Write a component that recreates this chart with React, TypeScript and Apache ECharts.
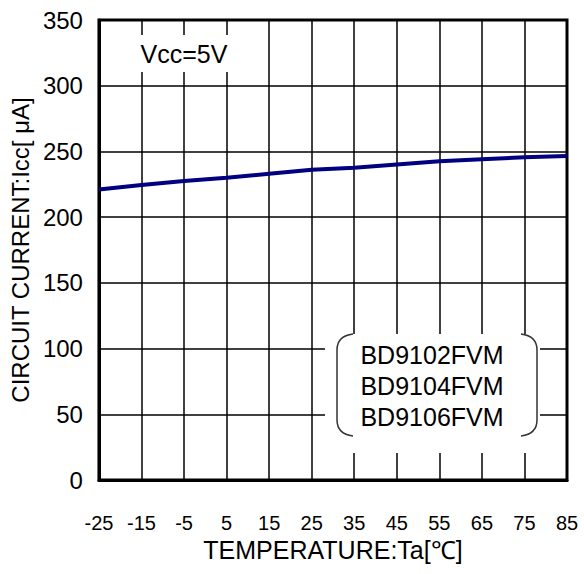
import React, { useEffect, useRef } from "react";
import * as echarts from "echarts";

const temperatures = ["-25", "-15", "-5", "5", "15", "25", "35", "45", "55", "65", "75", "85"];
const circuitCurrent = [221, 224.5, 227.5, 230, 233, 236, 237.5, 240, 242.5, 244, 245.5, 246.5];
const yTicks = { min: 0, max: 350, interval: 50 };
const deviceNames = ["BD9102FVM", "BD9104FVM", "BD9106FVM"];
const conditionLabel = "Vcc=5V";
const xName = "TEMPERATURE:Ta[℃]";
const yName = "CIRCUIT CURRENT:Icc[ μA]";

const FONT = "'Liberation Sans', Arial, sans-serif";

echarts.graphic.registerShape(
  "lbracket",
  echarts.graphic.extendPath("M 16 0 Q 0 2 0 16 L 0 86 Q 0 100 16 102", {})
);
echarts.graphic.registerShape(
  "rbracket",
  echarts.graphic.extendPath("M 0 0 Q 16 2 16 16 L 16 86 Q 16 100 0 102", {})
);

export default function App() {
  const ref = useRef<HTMLDivElement>(null);
  useEffect(() => {
    if (!ref.current) return;
    const chart = echarts.init(ref.current, undefined, { renderer: "svg" });
    chart.setOption({
      animation: false,
      backgroundColor: "#ffffff",
      grid: {
        left: 94,
        top: 20,
        right: 17,
        bottom: 94,
        show: true,
        borderColor: "#000",
        borderWidth: 3,
        backgroundColor: "transparent",
      },
      xAxis: {
        type: "category",
        data: temperatures,
        boundaryGap: false,
        name: xName,
        nameLocation: "middle",
        nameGap: 55,
        nameTextStyle: { fontFamily: FONT, fontSize: 25, color: "#000" },
        axisLine: { show: true, lineStyle: { color: "#000", width: 3 } },
        axisTick: { show: false },
        axisLabel: { fontFamily: FONT, fontSize: 20, color: "#000", margin: 33 },
        splitLine: { show: true, lineStyle: { color: "#000", width: 1.5 } },
      },
      yAxis: {
        type: "value",
        min: yTicks.min,
        max: yTicks.max,
        interval: yTicks.interval,
        name: yName,
        nameLocation: "middle",
        nameGap: 62,
        nameTextStyle: { fontFamily: FONT, fontSize: 24, color: "#000" },
        axisLine: { show: true, lineStyle: { color: "#000", width: 3 } },
        axisTick: { show: false },
        axisLabel: { fontFamily: FONT, fontSize: 24, color: "#000", margin: 16 },
        splitLine: { show: true, lineStyle: { color: "#000", width: 1.5 } },
      },
      series: [
        {
          type: "line",
          data: circuitCurrent,
          symbol: "none",
          lineStyle: { color: "#000080", width: 4 },
          z: 5,
        },
      ],
      graphic: [
        {
          type: "rect",
          z: 10,
          shape: { x: 128, y: 35, width: 114, height: 37 },
          style: { fill: "#fff" },
        },
        {
          type: "text",
          z: 11,
          x: 184,
          y: 54,
          style: {
            text: conditionLabel,
            fontFamily: FONT,
            fontSize: 25,
            fill: "#000",
            align: "center",
            verticalAlign: "middle",
          },
        },
        {
          type: "rect",
          z: 10,
          shape: { x: 325, y: 334, width: 215, height: 119 },
          style: { fill: "#fff" },
        },
        {
          type: "lbracket",
          z: 11,
          x: 337,
          y: 334,
          style: { stroke: "#333", lineWidth: 1.5, fill: "none" },
        },
        {
          type: "rbracket",
          z: 11,
          x: 521,
          y: 334,
          style: { stroke: "#333", lineWidth: 1.5, fill: "none" },
        },
        {
          type: "text",
          z: 11,
          x: 432,
          y: 386,
          style: {
            text: deviceNames.join("\n"),
            fontFamily: FONT,
            fontSize: 25,
            lineHeight: 31,
            fill: "#000",
            align: "center",
            verticalAlign: "middle",
          },
        },
      ],
    });
    return () => chart.dispose();
  }, []);
  return (
    <div
      ref={ref}
      style={{ position: "fixed", left: 0, top: 0, width: 584, height: 574 }}
    />
  );
}
